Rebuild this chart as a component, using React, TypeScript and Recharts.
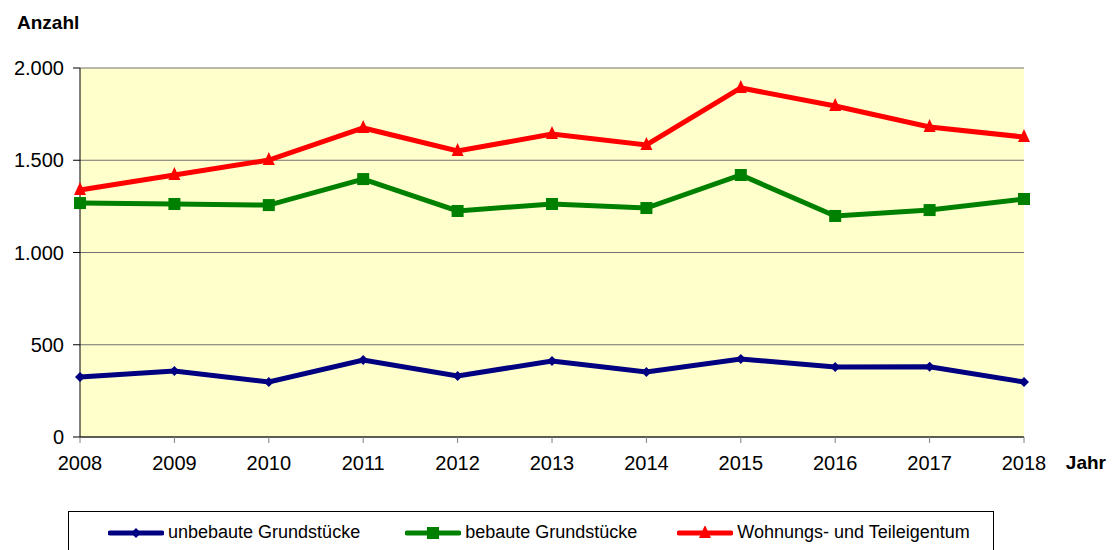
import { LineChart, Line, XAxis, YAxis, CartesianGrid, Legend, Label } from 'recharts';

const YEARS = ['2008', '2009', '2010', '2011', '2012', '2013', '2014', '2015', '2016', '2017', '2018'];
const UNBEBAUT = [325, 358, 298, 417, 331, 412, 352, 423, 379, 381, 298];
const BEBAUT = [1268, 1263, 1257, 1398, 1225, 1263, 1241, 1420, 1198, 1230, 1290];
const WOHNUNG = [1339, 1420, 1501, 1675, 1550, 1642, 1583, 1892, 1794, 1680, 1626];
const Y_TICKS = [0, 500, 1000, 1500, 2000];

const SERIES = [
    { key: 'unbebaut', name: 'unbebaute Grundstücke', color: '#000080', shape: 'diamond' },
    { key: 'bebaut', name: 'bebaute Grundstücke', color: '#008000', shape: 'square' },
    { key: 'wohnung', name: 'Wohnungs- und Teileigentum', color: '#FF0000', shape: 'triangle' },
];

const data = YEARS.map((year, i) => ({
    year,
    unbebaut: UNBEBAUT[i],
    bebaut: BEBAUT[i],
    wohnung: WOHNUNG[i],
}));

const FONT = 'Arial, "Liberation Sans", sans-serif';

const fmt = (v: number) => String(v).replace(/\B(?=(\d{3})+(?!\d))/g, '.');

function Marker({ cx, cy, shape, color }: { cx: number; cy: number; shape: string; color: string }) {
    if (cx == null || cy == null) return null;
    if (shape === 'square') {
        return <rect x={cx - 6} y={cy - 6} width={12} height={12} fill={color} />;
    }
    if (shape === 'triangle') {
        return <polygon points={`${cx},${cy - 8} ${cx + 6},${cy + 5} ${cx - 6},${cy + 5}`} fill={color} />;
    }
    return <polygon points={`${cx},${cy - 5} ${cx + 5},${cy} ${cx},${cy + 5} ${cx - 5},${cy}`} fill={color} />;
}

function LegendBox() {
    return (
        <div style={{
            border: '1px solid #000', width: 926, height: 60, boxSizing: 'border-box',
            display: 'flex', alignItems: 'flex-start', paddingTop: 10, fontFamily: FONT, fontSize: 18, color: '#000',
        }}>
            {SERIES.map((s, i) => (
                <div key={s.key} style={{ display: 'flex', alignItems: 'center', marginLeft: i === 0 ? 39 : i === 1 ? 45 : 40 }}>
                    <svg width={56} height={14} style={{ marginRight: 4 }}>
                        <line x1={2} y1={7} x2={54} y2={7} stroke={s.color} strokeWidth={5} strokeLinecap="round" />
                        <Marker cx={28} cy={7} shape={s.shape} color={s.color} />
                    </svg>
                    <span>{s.name}</span>
                </div>
            ))}
        </div>
    );
}

export default function App() {
    return (
        <div style={{ position: 'absolute', left: 0, top: 0, background: '#fff' }}>
            <LineChart width={1117} height={550} data={data} margin={{ top: 68, right: 93, left: 0, bottom: 0 }}>
                <CartesianGrid fill="#FFFFCC" stroke="#707070" strokeWidth={1} vertical={false} />
                <XAxis
                    dataKey="year"
                    height={53}
                    stroke="#000"
                    tickLine={{ stroke: '#808080' }}
                    tickSize={6}
                    tick={{ fill: '#000', fontSize: 20, fontFamily: FONT }}
                    tickMargin={13}
                    interval={0}
                >
                    <Label value="Jahr" position="insideTopRight" offset={0} dx={82} dy={19}
                        style={{ fontFamily: FONT, fontSize: 19, fontWeight: 'bold', fill: '#000' }} />
                </XAxis>
                <YAxis
                    width={80}
                    domain={[0, 2000]}
                    ticks={Y_TICKS}
                    tickFormatter={fmt}
                    stroke="#000"
                    tickSize={7}
                    tickLine={{ stroke: '#000' }}
                    tick={{ fill: '#000', fontSize: 20, fontFamily: FONT }}
                    tickMargin={9}
                    interval={0}
                />
                <YAxis yAxisId="r" orientation="right" width={0} domain={[0, 2000]} tick={false} tickLine={false} stroke="#808080" />
                <Legend verticalAlign="bottom" wrapperStyle={{ position: 'absolute', left: 68, top: 511, width: 926 }} content={() => <LegendBox />} />
                {SERIES.map((s) => (
                    <Line
                        key={s.key}
                        dataKey={s.key}
                        name={s.name}
                        stroke={s.color}
                        strokeWidth={5}
                        isAnimationActive={false}
                        dot={(p: any) => <Marker key={`${s.key}-${p.index}`} cx={p.cx} cy={p.cy} shape={s.shape} color={s.color} />}
                        activeDot={false}
                    />
                ))}
                <text x={17} y={29} style={{ fontFamily: FONT, fontSize: 19, fontWeight: 'bold', fill: '#000' }}>Anzahl</text>
            </LineChart>
        </div>
    );
}
